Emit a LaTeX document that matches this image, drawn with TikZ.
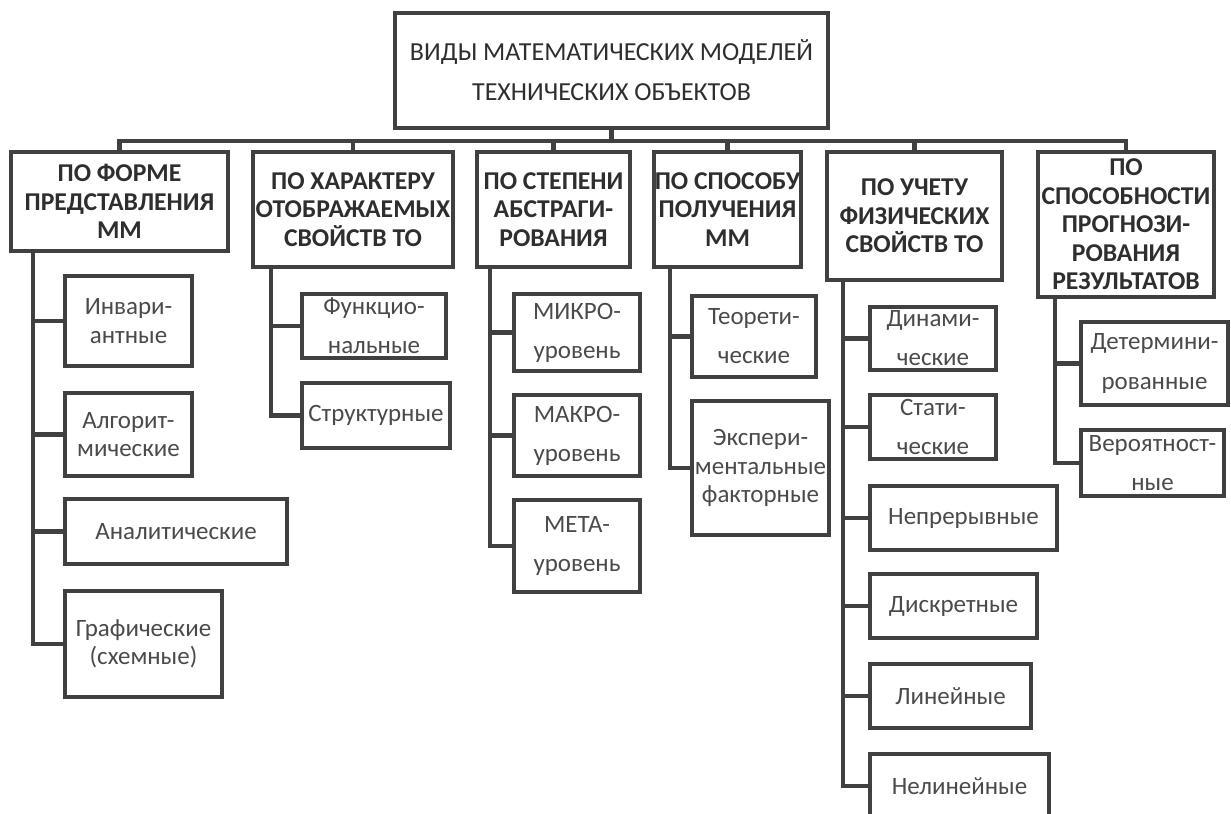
\documentclass[tikz,border=0pt]{standalone}
\usepackage{fontspec}
\setmainfont{Carlito}
\definecolor{lines}{HTML}{404040}
\definecolor{cattext}{HTML}{2E2E2E}
\definecolor{leaftext}{HTML}{4A4A4A}

\begin{document}
\begin{tikzpicture}[scale=1,
    box/.style={draw=lines,line width=2.4pt,inner sep=0pt,align=center,text=leaftext,
                font=\fontsize{14.2pt}{16.2pt}\selectfont},
    widebox/.style={box,font=\fontsize{14.2pt}{22.2pt}\selectfont},
    titlebox/.style={box,text=cattext,font=\fontsize{14.8pt}{22.8pt}\selectfont},
    cat/.style={box,text=cattext,font=\bfseries\fontsize{14.6pt}{16.2pt}\selectfont},
    link/.style={draw=lines,line width=2.4pt}]
    \clip (0,0) rectangle (24.62,-16.28);
    %title
    \node[titlebox,minimum width=8.66cm,minimum height=2.30cm] (title) at (12.23,-1.41)
        {ВИДЫ МАТЕМАТИЧЕСКИХ МОДЕЛЕЙ\\ТЕХНИЧЕСКИХ ОБЪЕКТОВ};
    %categories
    \node[cat,minimum width=4.34cm,minimum height=1.98cm] (forma) at (2.39,-4.03)
        {ПО ФОРМЕ\\ПРЕДСТАВЛЕНИЯ\\ММ};
    \node[cat,minimum width=4.00cm,minimum height=2.30cm] (harakter) at (7.06,-4.19)
        {ПО ХАРАКТЕРУ\\ОТОБРАЖАЕМЫХ\\СВОЙСТВ ТО};
    \node[cat,minimum width=3.06cm,minimum height=2.30cm] (abstr) at (11.07,-4.19)
        {ПО СТЕПЕНИ\\АБСТРАГИ-\\РОВАНИЯ};
    \node[cat,minimum width=2.94cm,minimum height=2.30cm] (sposob) at (14.55,-4.19)
        {ПО СПОСОБУ\\ПОЛУЧЕНИЯ\\ММ};
    \node[cat,minimum width=3.50cm,minimum height=2.56cm] (fiz) at (18.29,-4.32)
        {ПО УЧЕТУ\\ФИЗИЧЕСКИХ\\СВОЙСТВ ТО};
    \node[cat,minimum width=3.52cm,minimum height=2.90cm] (prognoz) at (22.52,-4.49)
        {ПО\\СПОСОБНОСТИ\\ПРОГНОЗИ-\\РОВАНИЯ\\РЕЗУЛЬТАТОВ};
    %bus
    \coordinate (bus) at ([yshift=-0.22cm]title.south);
    \draw[link] (title.south) -- (bus);
    \draw[link] (forma.north) |- (bus) -| (prognoz.north);
    \foreach \n in {harakter,abstr,sposob,fiz}
        \draw[link] (\n.north) -- (\n.north |- bus);

    %form of representation
    \node[box,minimum width=2.54cm,minimum height=1.80cm] (inv) at (2.57,-6.42) {Инвари-\\антные};
    \node[box,minimum width=2.54cm,minimum height=1.66cm] (algo) at (2.57,-8.69) {Алгорит-\\мические};
    \node[box,minimum width=4.44cm,minimum height=1.30cm] (anal) at (3.52,-10.63) {Аналитические};
    \node[box,minimum width=3.14cm,minimum height=2.12cm] (graf) at (2.87,-12.88) {Графические\\(схемные)};
    \coordinate (s1) at ([xshift=0.48cm]forma.south west);
    \draw[link] (s1) |- (graf.west);
    \foreach \n in {inv,algo,anal}
        \draw[link] (s1 |- \n.west) -- (\n.west);

    %displayed properties
    \node[widebox,minimum width=2.88cm,minimum height=1.28cm] (funk) at (7.48,-6.52) {Функцио-\\нальные};
    \node[box,minimum width=2.96cm,minimum height=1.30cm] (strukt) at (7.52,-8.31) {Структурные};
    \coordinate (s2) at ([xshift=0.40cm]harakter.south west);
    \draw[link] (s2) |- (strukt.west);
    \draw[link] (s2 |- funk.west) -- (funk.west);

    %abstraction
    \node[widebox,minimum width=2.52cm,minimum height=1.54cm] (mikro) at (11.54,-6.65) {МИКРО-\\уровень};
    \node[widebox,minimum width=2.52cm,minimum height=1.62cm] (makro) at (11.54,-8.71) {МАКРО-\\уровень};
    \node[widebox,minimum width=2.52cm,minimum height=1.84cm] (meta) at (11.54,-10.92) {МЕТА-\\уровень};
    \coordinate (s3) at ([xshift=0.30cm]abstr.south west);
    \draw[link] (s3) |- (meta.west);
    \foreach \n in {mikro,makro}
        \draw[link] (s3 |- \n.west) -- (\n.west);

    %way of obtaining
    \node[widebox,minimum width=2.48cm,minimum height=1.62cm] (teor) at (15.08,-6.73) {Теорети-\\ческие};
    \node[box,minimum width=2.74cm,minimum height=2.68cm] (eksp) at (15.21,-9.36)
        {Экспери-\\ментальные\\факторные};
    \coordinate (s4) at ([xshift=0.36cm]sposob.south west);
    \draw[link] (s4) |- (eksp.west);
    \draw[link] (s4 |- teor.west) -- (teor.west);

    %physical properties
    \node[widebox,minimum width=2.52cm,minimum height=1.26cm] (din) at (18.66,-6.77) {Динами-\\ческие};
    \node[widebox,minimum width=2.52cm,minimum height=1.28cm] (stat) at (18.66,-8.54) {Стати-\\ческие};
    \node[box,minimum width=3.74cm,minimum height=1.28cm] (nepr) at (19.27,-10.36) {Непрерывные};
    \node[box,minimum width=3.34cm,minimum height=1.28cm] (diskr) at (19.07,-12.12) {Дискретные};
    \node[box,minimum width=3.22cm,minimum height=1.28cm] (lin) at (19.01,-13.92) {Линейные};
    \node[box,minimum width=3.58cm,minimum height=1.28cm] (nelin) at (19.19,-15.72) {Нелинейные};
    \coordinate (s5) at ([xshift=0.36cm]fiz.south west);
    \draw[link] (s5) |- (nelin.west);
    \foreach \n in {din,stat,nepr,diskr,lin}
        \draw[link] (s5 |- \n.west) -- (\n.west);

    %forecasting
    \node[widebox,minimum width=2.94cm,minimum height=1.66cm] (determ) at (23.09,-7.27) {Детермини-\\рованные};
    \node[widebox,minimum width=2.86cm,minimum height=1.32cm] (veroyat) at (23.05,-9.26) {Вероятност-\\ные};
    \coordinate (s6) at ([xshift=0.38cm]prognoz.south west);
    \draw[link] (s6) |- (veroyat.west);
    \draw[link] (s6 |- determ.west) -- (determ.west);
\end{tikzpicture}
\end{document}
